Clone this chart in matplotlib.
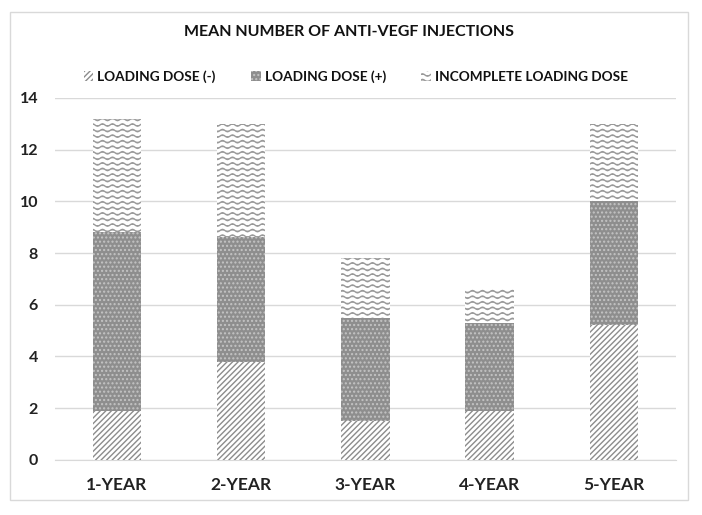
import warnings
import numpy as np
import matplotlib.pyplot as plt
import matplotlib.hatch as mhatch
from matplotlib.path import Path
from matplotlib.patches import Rectangle

warnings.filterwarnings('ignore')

plt.rcParams['font.family'] = ['Lato', 'DejaVu Sans']
plt.rcParams['hatch.linewidth'] = 1.0


# wavy hatch for the "incomplete" segment, drawn with '~'
class WaveHatch(mhatch.HatchPatternBase):
    def __init__(self, hatch, density):
        self.num_lines = int(hatch.count('~') * density)
        self.npts = 81
        self.num_vertices = self.num_lines * self.npts

    def set_vertices_and_codes(self, vertices, codes):
        steps, stepsize = np.linspace(0.0, 1.0, self.num_lines, False, retstep=True)
        steps += stepsize / 2.
        xs = np.linspace(0.0, 1.0, self.npts)
        ys = 0.012 * np.sin(2 * np.pi * 10 * xs)
        for i, s in enumerate(steps):
            sl = slice(i * self.npts, (i + 1) * self.npts)
            vertices[sl, 0] = xs
            vertices[sl, 1] = s + ys
            codes[sl] = Path.LINETO
            codes[i * self.npts] = Path.MOVETO


mhatch._hatch_types.append(WaveHatch)

years = ['1-YEAR', '2-YEAR', '3-YEAR', '4-YEAR', '5-YEAR']
loading_neg = [1.9, 3.8, 1.5, 1.9, 5.2]
loading_pos = [6.9, 4.8, 4.0, 3.4, 4.8]
incomplete = [4.4, 4.4, 2.3, 1.3, 3.0]

fig = plt.figure(figsize=(7.02, 5.15), dpi=100)
ax = fig.add_axes([0.078, 0.107, 0.885, 0.703])

x = np.arange(len(years))
w = 0.39
b1 = np.array(loading_neg)
b2 = b1 + np.array(loading_pos)

ax.bar(x, loading_neg, w, color='white', edgecolor='#8c8c8c', hatch='//////',
       linewidth=0, label='LOADING DOSE (-)', zorder=3)
ax.bar(x, loading_pos, w, bottom=b1, color='#8e8e8e', edgecolor='#c4c4c4', hatch='....',
       linewidth=0, label='LOADING DOSE (+)', zorder=3)
ax.bar(x, incomplete, w, bottom=b2, color='white', edgecolor='#9a9a9a', hatch='~~~',
       linewidth=0, label='INCOMPLETE LOADING DOSE', zorder=3)

ax.set_xlim(-0.5, 4.5)
ax.set_ylim(0, 14)
ax.set_yticks(range(0, 15, 2))
ax.set_xticks(x)
ax.set_xticklabels(years, fontsize=12.5, fontweight='bold', color='#222222')
for t in ax.get_yticklabels():
    t.set_fontsize(11.5)
    t.set_fontweight('bold')
    t.set_color('#222222')
ax.tick_params(length=0, pad=12)
ax.tick_params(axis='y', pad=12)
ax.grid(axis='y', color='#d9d9d9', linewidth=1, zorder=0)
for s in ['top', 'right', 'left']:
    ax.spines[s].set_visible(False)
ax.spines['bottom'].set_color('#d9d9d9')

fig.text(0.497, 0.938, 'MEAN NUMBER OF ANTI-VEGF INJECTIONS', ha='center', va='center',
         fontsize=11.5, fontweight='bold', color='#111111')

leg = fig.legend(loc='center', bbox_to_anchor=(0.507, 0.851), ncol=3, frameon=False,
                 prop={'size': 9.8, 'weight': 'bold'}, handlelength=0.7, handleheight=0.7,
                 columnspacing=2.6, handletextpad=0.3)
for t in leg.get_texts():
    t.set_color('#111111')

fig.patches.append(Rectangle((10 / 702, 1 - 500 / 515), 678 / 702, 488 / 515,
                             transform=fig.transFigure, fill=False,
                             edgecolor='#d9d9d9', linewidth=1))

fig.savefig('out.png', dpi=100)
